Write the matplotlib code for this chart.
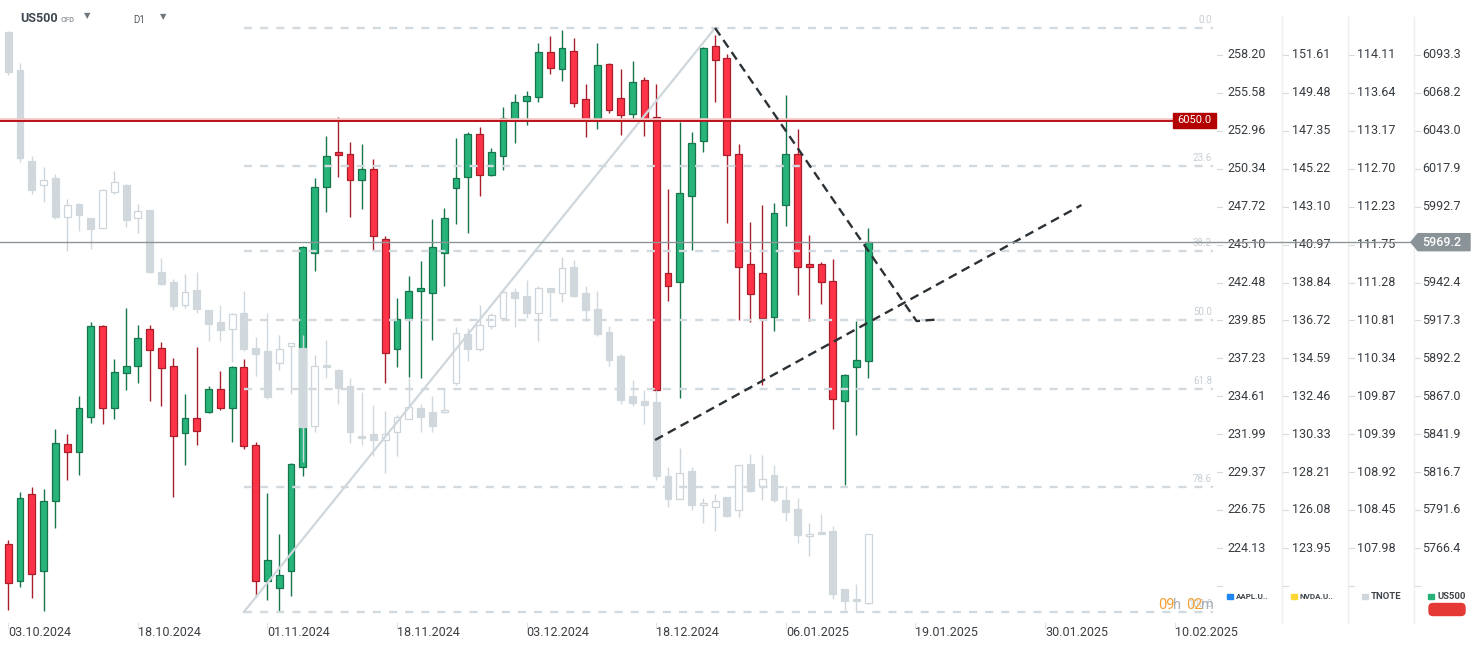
import numpy as np
import matplotlib.pyplot as plt
import matplotlib.transforms as mtransforms
from matplotlib.patches import Rectangle, Polygon, FancyBboxPatch

plt.rcParams['font.family'] = ['Roboto', 'DejaVu Sans']
plt.rcParams['lines.scale_dashes'] = False

# ---- US500 daily candles (open, high, low, close) ----
us_open = [5769.0, 5744.4, 5802.0, 5751.0, 5797.4, 5835.2, 5829.8, 5853.2, 5913.5, 5859.0,
           5882.3, 5886.9, 5911.5, 5899.3, 5886.9, 5842.5, 5852.4, 5856.5, 5871.7, 5859.0,
           5886.1, 5834.7, 5744.4, 5739.9, 5751.0, 5820.0, 5961.7, 6006.0, 6029.3, 6027.8,
           6010.6, 6017.4, 5971.0, 5898.3, 5918.1, 5936.6, 5935.8, 5961.7, 6004.8, 6012.1,
           6040.8, 6013.4, 6026.1, 6050.4, 6062.6, 6065.6, 6095.0, 6084.1, 6095.8, 6064.1,
           6050.9, 6087.1, 6065.1, 6054.2, 6076.5, 6051.9, 5948.5, 5942.9, 5999.9, 6036.4,
           6099.1, 6091.2, 6027.8, 5954.6, 5948.5, 5919.3, 5994.1, 6027.6, 5954.6, 5954.6,
           5943.2, 5863.8, 5886.1, 5890.2]
us_high = [5771.5, 5803.5, 5807.0, 5805.5, 5845.1, 5842.0, 5867.1, 5916.5, 5914.3, 5891.7,
           5925.4, 5914.3, 5914.3, 5903.1, 5892.5, 5868.6, 5899.6, 5873.7, 5883.8, 5886.9,
           5891.4, 5836.4, 5803.0, 5775.8, 5822.7, 5966.5, 6011.6, 6039.5, 6052.2, 6035.4,
           6034.2, 6024.3, 5973.1, 5932.0, 5946.7, 5956.6, 5984.5, 5991.8, 6038.2, 6042.0,
           6045.3, 6031.4, 6058.8, 6067.4, 6069.1, 6101.1, 6105.7, 6109.7, 6104.4, 6074.0,
           6101.1, 6087.7, 6083.9, 6089.2, 6078.5, 6074.0, 6004.5, 6048.9, 6042.0, 6098.6,
           6106.7, 6093.7, 6034.2, 5982.5, 5993.9, 5995.4, 6066.6, 6044.1, 5973.8, 5956.1,
           5957.9, 5881.8, 5916.8, 5978.4]
us_low = [5725.1, 5740.4, 5733.5, 5724.6, 5779.9, 5811.3, 5815.1, 5849.6, 5848.9, 5852.2,
          5870.9, 5875.5, 5864.1, 5860.3, 5800.4, 5821.7, 5834.7, 5856.0, 5857.7, 5836.9,
          5831.9, 5734.0, 5731.7, 5724.6, 5734.3, 5814.4, 5950.3, 5989.0, 6012.4, 5985.7,
          5991.3, 5963.4, 5876.0, 5886.1, 5880.0, 5879.3, 5904.6, 5940.4, 5981.2, 5975.1,
          5999.9, 6012.9, 6017.2, 6035.2, 6047.1, 6062.3, 6080.6, 6076.2, 6059.0, 6039.0,
          6044.1, 6055.0, 6040.2, 6050.9, 6039.7, 5869.9, 5930.5, 5865.6, 5964.2, 6028.8,
          6062.3, 5981.9, 5917.8, 5916.5, 5874.2, 5910.5, 5980.2, 5934.3, 5917.0, 5928.5,
          5845.1, 5808.3, 5841.3, 5878.8]
us_close = [5743.1, 5799.4, 5749.2, 5797.4, 5835.9, 5829.8, 5859.0, 5913.5, 5859.0, 5882.8,
            5886.9, 5905.4, 5897.5, 5885.6, 5840.5, 5852.4, 5843.8, 5871.7, 5859.0, 5886.1,
            5834.2, 5744.4, 5758.4, 5748.5, 5822.0, 5965.7, 6005.5, 6026.1, 6027.1, 6010.6,
            6017.4, 5973.1, 5895.5, 5918.1, 5936.6, 5938.6, 5965.7, 5985.5, 6011.6, 6040.8,
            6013.9, 6029.3, 6051.2, 6062.1, 6066.4, 6095.0, 6084.9, 6097.8, 6061.8, 6050.9,
            6086.4, 6056.7, 6053.7, 6075.7, 6050.4, 5870.9, 5939.9, 6001.5, 6035.2, 6097.8,
            6089.9, 6026.8, 5952.5, 5934.5, 5918.6, 5988.3, 6027.6, 5953.0, 5953.0, 5942.9,
            5865.1, 5880.8, 5890.9, 5969.2]

# ---- TNOTE daily candles (overlay, own scale) ----
tn_open = [114.398, 113.918, 112.792, 112.497, 112.578, 112.098, 112.255, 112.084, 111.960, 112.412,
           112.497, 112.079, 112.179, 111.418, 111.285, 111.000, 111.185, 110.934, 110.796, 110.701,
           110.896, 110.468, 110.430, 110.278, 110.487, 110.468, 109.493, 110.254, 110.192, 109.992,
           109.375, 109.394, 109.327, 109.422, 109.584, 109.717, 109.674, 109.674, 110.026, 110.639,
           110.449, 110.739, 110.843, 111.157, 111.119, 110.896, 111.209, 111.147, 111.471, 111.147,
           110.957, 110.667, 110.368, 109.869, 109.807, 109.798, 108.871, 108.590, 108.933, 108.514,
           108.495, 108.609, 108.452, 109.023, 108.752, 108.885, 108.576, 108.462, 108.129, 108.182,
           108.191, 107.469, 107.345, 107.293]
tn_high = [114.413, 114.009, 112.854, 112.721, 112.626, 112.321, 112.274, 112.084, 112.440, 112.664,
           112.507, 112.255, 112.184, 111.585, 111.323, 111.385, 111.409, 110.943, 111.000, 110.900,
           111.176, 110.605, 110.896, 110.634, 110.535, 110.634, 110.382, 110.567, 110.206, 110.097,
           109.921, 109.760, 109.679, 109.636, 110.097, 109.774, 109.864, 109.954, 110.729, 110.715,
           111.000, 110.896, 111.185, 111.219, 111.309, 111.233, 111.219, 111.604, 111.561, 111.243,
           111.176, 110.739, 110.392, 110.073, 109.950, 109.940, 108.990, 109.218, 108.990, 108.600,
           108.657, 108.619, 109.009, 109.146, 109.132, 109.013, 108.752, 108.605, 108.286, 108.405,
           108.258, 107.469, 107.530, 108.158]
tn_low = [113.861, 112.782, 112.378, 112.283, 112.069, 111.675, 111.927, 111.703, 111.955, 112.378,
          111.974, 111.898, 111.404, 111.252, 110.938, 110.962, 110.896, 110.549, 110.549, 110.287,
          110.425, 110.121, 109.836, 110.192, 109.897, 109.051, 109.422, 110.097, 109.774, 109.289,
          109.265, 109.123, 108.918, 109.123, 109.584, 109.427, 109.422, 109.655, 110.002, 110.311,
          110.430, 110.701, 110.810, 110.734, 110.834, 110.549, 110.853, 111.038, 111.105, 110.800,
          110.610, 110.240, 109.774, 109.750, 109.517, 108.823, 108.495, 108.585, 108.448, 108.286,
          108.186, 108.362, 108.362, 108.680, 108.576, 108.557, 108.315, 108.044, 107.877, 108.148,
          107.350, 107.183, 107.183, 107.288]
tn_close = [113.899, 112.830, 112.435, 112.554, 112.093, 112.245, 112.122, 111.946, 112.435, 112.526,
            112.060, 112.165, 111.414, 111.266, 110.986, 111.157, 110.948, 110.762, 110.691, 110.886,
            110.458, 110.396, 109.859, 110.453, 110.525, 109.479, 110.249, 110.230, 109.964, 109.417,
            109.346, 109.327, 109.394, 109.607, 109.731, 109.603, 109.493, 109.697, 110.653, 110.449,
            110.748, 110.872, 111.157, 111.090, 110.896, 111.209, 111.157, 111.456, 111.119, 110.943,
            110.644, 110.320, 109.826, 109.788, 109.764, 108.871, 108.595, 108.918, 108.510, 108.537,
            108.562, 108.372, 109.009, 108.690, 108.837, 108.571, 108.433, 108.144, 108.153, 108.153,
            107.407, 107.321, 107.321, 108.153]

# ---- axis labels ----
date_labels = ['03.10.2024', '18.10.2024', '01.11.2024', '18.11.2024', '03.12.2024',
               '18.12.2024', '06.01.2025', '19.01.2025', '30.01.2025', '10.02.2025']
date_bars = [0, 11, 22, 33, 44, 55, 66, 77, 88, 99]

aapl_ticks = ['258.20', '255.58', '252.96', '250.34', '247.72', '245.10', '242.48',
              '239.85', '237.23', '234.61', '231.99', '229.37', '226.75', '224.13']
nvda_ticks = ['151.61', '149.48', '147.35', '145.22', '143.10', '140.97', '138.84',
              '136.72', '134.59', '132.46', '130.33', '128.21', '126.08', '123.95']
tnote_ticks = [114.11, 113.64, 113.17, 112.70, 112.23, 111.75, 111.28,
               110.81, 110.34, 109.87, 109.39, 108.92, 108.45, 107.98]
us500_ticks = [6093.3, 6068.2, 6043.0, 6017.9, 5992.7, 5967.5, 5942.4,
               5917.3, 5892.2, 5867.0, 5841.9, 5816.7, 5791.6, 5766.4]

legend_names = ['AAPL.U..', 'NVDA.U..', 'TNOTE', 'US500']
legend_colors = ['#1e88f0', '#fdd835', '#d0d8dd', '#26b37a']

# ---- drawings ----
fib_levels = [0.0, 23.6, 38.2, 50.0, 61.8, 78.6, 100.0]
fib_low = (20, 5724.0)
fib_high = (60, 6111.2)
trend_down = [(60.0, 6111.2), (77.1, 5916.9), (78.7, 5917.8)]
trend_up = [(54.9, 5838.0), (91.1, 5993.8)]
resistance = 6050.0
last_price = 5969.2

# ---- layout (pixels) ----
W, H = 1482, 650
BAR_PX, BAR0_PX = 11.78, 8.3
TICK_TOP_PX, TICK_BOT_PX = 55, 548
PLOT_RIGHT = 1213

ppx = (us500_ticks[0] - us500_ticks[-1]) / (TICK_BOT_PX - TICK_TOP_PX)
tn_scale = (us500_ticks[0] - us500_ticks[-1]) / (tnote_ticks[0] - tnote_ticks[-1])


def tn_to_us(v):
    return us500_ticks[0] - (tnote_ticks[0] - np.asarray(v)) * tn_scale


def price_py(p):
    return TICK_TOP_PX + (us500_ticks[0] - p) / ppx


fig = plt.figure(figsize=(W / 100, H / 100), dpi=100)
ax = fig.add_axes([0, 0, 1, 1])
ax.set_xlim(-BAR0_PX / BAR_PX, (W - BAR0_PX) / BAR_PX)
ax.set_ylim(us500_ticks[0] - (H - TICK_TOP_PX) * ppx, us500_ticks[0] + TICK_TOP_PX * ppx)
ax.axis('off')

pxt = mtransforms.Affine2D().scale(1 / W, -1 / H).translate(0, 1) + fig.transFigure
x_data_y_px = mtransforms.blended_transform_factory(ax.transData, pxt)


def draw_candles(o, h, l, c, up_face, dn_face, up_edge, dn_edge, z, minh):
    o, h, l, c = map(np.asarray, (o, h, l, c))
    x = np.arange(len(o))
    up = c >= o
    face = np.where(up, up_face, dn_face)
    edge = np.where(up, up_edge, dn_edge)
    ax.vlines(x, l, h, colors=edge, lw=1.0, zorder=z)
    bottom = np.minimum(o, c)
    height = np.maximum(np.abs(c - o), minh)
    ax.bar(x, height, width=0.58, bottom=bottom, color=face, edgecolor=edge,
           linewidth=0.9, zorder=z + 0.1)


draw_candles(us_open, us_high, us_low, us_close, '#27b37a', '#ff3347',
             '#17754c', '#a81f2b', 2, 0.9)
draw_candles(tn_to_us(tn_open), tn_to_us(tn_high), tn_to_us(tn_low), tn_to_us(tn_close),
             '#ffffff', '#d0d8dd', '#cdd5da', '#d0d8dd', 3, 0.9)

# fibonacci retracement
fib_right_bar = (PLOT_RIGHT - BAR0_PX) / BAR_PX
rng = fib_high[1] - fib_low[1]
for lv in fib_levels:
    p = fib_high[1] - lv / 100 * rng
    ax.plot([fib_low[0], fib_right_bar], [p, p], color='#d3dadf', lw=1.7,
            linestyle=(0, (5.8, 5.8)), zorder=4)
    ax.text(PLOT_RIGHT - 1, price_py(p) - 3, f'{lv:.1f}', transform=pxt,
            ha='right', va='bottom', fontsize=7, color='#c6ced4', zorder=4)
ax.plot([fib_low[0], fib_high[0]], [fib_low[1], fib_high[1]], color='#cfd7dc',
        lw=1.6, zorder=4)

# trend lines
for pts in (trend_down, trend_up):
    xs, ys = zip(*pts)
    ax.plot(xs, ys, color='#2c3135', lw=1.7, linestyle=(0, (6.5, 4.0)), zorder=6)

# resistance line + tag
res_end = (1173 - BAR0_PX) / BAR_PX
ax.plot([ax.get_xlim()[0], res_end], [resistance, resistance],
        color='#f4c4c4', lw=2.6, zorder=5, solid_capstyle='butt')
ax.plot([ax.get_xlim()[0], res_end], [resistance - 0.4, resistance - 0.4],
        color='#b8121a', lw=1.4, zorder=5, solid_capstyle='butt')
ry = price_py(resistance)
ax.add_patch(Rectangle((1173, ry - 7.5), 43, 15, transform=pxt, color='#b30000', zorder=7))
ax.text(1194.5, ry, f'{resistance:.1f}', transform=pxt, ha='center', va='center',
        fontsize=8, color='white', zorder=8)

# last price line + tag
ly = price_py(last_price)
ax.plot([0, 1412], [ly, ly], transform=pxt, color='#8d9599', lw=1.0, zorder=7)
ax.add_patch(Polygon([(1411, ly), (1418, ly - 8.5), (1470, ly - 8.5), (1470, ly + 8.5),
                      (1418, ly + 8.5)], closed=True, transform=pxt, color='#8a9397',
                     zorder=8))
ax.text(1422, ly, f'{last_price:.1f}', transform=pxt, ha='left', va='center',
        fontsize=9, color='white', fontweight='medium', zorder=9)

# right scale panel
col_x = [1227, 1292, 1357, 1422]
sep_x = [1282, 1348, 1414]
for sx in sep_x:
    ax.plot([sx, sx], [17, 623], transform=pxt, color='#eeeeee', lw=1.0, zorder=1)
step = us500_ticks[0] - us500_ticks[1]
tick_prices = list(us500_ticks) + [us500_ticks[-1] - step]
for p in tick_prices:
    for tx in (1217, 1283, 1349, 1415):
        ax.plot([tx, tx + 5], [price_py(p)] * 2, transform=pxt, color='#dadada',
                lw=0.8, zorder=1)
columns = [aapl_ticks, nvda_ticks, [f'{v:.2f}' for v in tnote_ticks],
           [f'{v:.1f}' for v in us500_ticks]]
for cx, labels in zip(col_x, columns):
    for lab, p in zip(labels, us500_ticks):
        ax.text(cx, price_py(p), lab, transform=pxt, ha='left', va='center',
                fontsize=9, color='#373c41', zorder=6)

# legend boxes
leg_x = [1230, 1294, 1365, 1431]
for lx, name, col in zip(leg_x, legend_names, legend_colors):
    ax.add_patch(Rectangle((lx - 2.7, 593.5), 5.4, 5.4, transform=pxt, color=col, zorder=6))
    small = name.endswith('..')
    ax.text(lx + 6, 596.5, name, transform=pxt, ha='left', va='center',
            fontsize=5.8 if small else 6.8, fontweight='bold', color='#3f464b', zorder=6)
ax.add_patch(FancyBboxPatch((1429, 603.5), 36, 12, boxstyle='round,pad=0,rounding_size=4',
                            transform=pxt, color='#e53935', zorder=6))

# countdown
for txt, xx, col in (('09', 1158, '#f5a033'), ('h', 1173.5, '#a9b0b5'),
                     ('02', 1186.5, '#f5a033'), ('m', 1201, '#a9b0b5')):
    ax.text(xx, 605, txt, transform=pxt, ha='left', va='center', fontsize=10.5,
            color=col, zorder=9)

# date axis
for b, lab in zip(date_bars, date_labels):
    ax.plot([b, b], [623, 628], transform=x_data_y_px, color='#e2e2e2', lw=0.8)
    ax.text(b, 633, lab, transform=x_data_y_px, ha='left', va='center',
            fontsize=9, color='#3a3f44')

# header
ax.text(20, 18, 'US500', transform=pxt, ha='left', va='center', fontsize=9,
        fontweight='bold', color='#3f4850')
ax.text(61, 19, 'CFD', transform=pxt, ha='left', va='center', fontsize=5.5,
        fontweight='bold', color='#9aa0a6')
ax.text(87, 16, '▼', transform=pxt, ha='center', va='center', fontsize=6,
        color='#70777c', family='DejaVu Sans')
ax.text(133, 20, 'D1', transform=pxt, ha='left', va='center', fontsize=7,
        color='#555b60')
ax.text(163, 17, '▼', transform=pxt, ha='center', va='center', fontsize=6,
        color='#70777c', family='DejaVu Sans')

fig.savefig('out.png', dpi=100)
